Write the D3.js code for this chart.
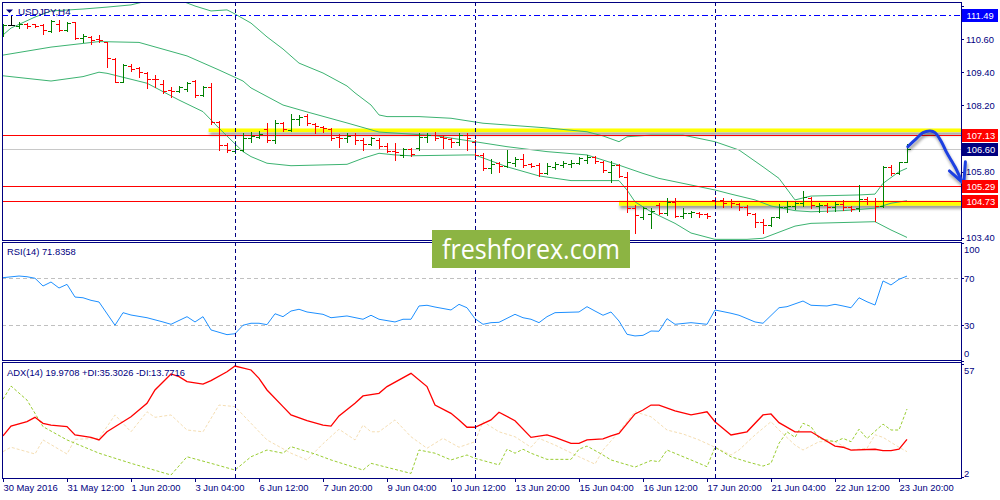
<!DOCTYPE html>
<html>
<head>
<meta charset="utf-8">
<script src="https://cdn.jsdelivr.net/npm/d3@7"></script>
<style>
  body { margin: 0; background: #fff; }
  svg { display: block; font-family: "Liberation Sans", Arial, sans-serif; }
</style>
</head>
<body>
<svg id="chart" width="1000" height="500"></svg>
<script>
// USDJPY H4, 30 May - 24 Jun 2016, one entry per H4 bar (bar 0 = 30 May 04:00)
var barOpen = [110.82,111.11,111.07,111.13,111.13,111.11,110.88,111.15,110.93,111.21,
  110.65,110.69,110.60,110.50,109.88,109.06,109.64,109.56,109.36,109.17,
  108.96,108.75,108.72,108.79,109.08,108.57,108.87,107.61,106.76,106.54,
  106.58,107.00,107.06,107.34,106.94,107.55,107.30,107.70,107.82,107.51,
  107.42,107.34,107.06,107.00,107.12,106.94,106.78,106.94,106.72,106.55,
  106.40,106.62,106.64,107.06,107.12,107.06,106.97,106.88,107.12,106.88,
  106.40,105.91,106.12,106.00,106.12,106.24,106.07,106.04,105.76,105.97,
  106.04,106.07,106.10,106.22,106.31,106.15,105.78,106.04,105.61,104.47,
  104.14,104.26,104.58,104.28,104.70,104.19,104.31,104.31,104.26,104.77,
  104.77,104.74,104.61,104.50,104.26,103.98,103.86,104.14,104.50,104.55,
  104.67,104.83,104.55,104.58,104.50,104.62,104.50,104.47,104.79,104.74,
  104.55,105.95,105.76,106.15];
var barHigh = [111.13,111.44,111.22,111.17,111.15,111.14,111.31,111.29,111.23,111.23,
  110.77,110.72,110.75,110.51,109.90,109.69,109.69,109.60,109.42,109.30,
  109.12,108.87,108.90,109.03,109.12,108.90,109.00,107.63,106.82,106.91,
  107.18,107.24,107.27,107.55,107.67,107.60,107.87,107.85,107.87,107.55,
  107.45,107.37,107.15,107.18,107.18,107.00,107.06,107.00,106.82,106.82,
  106.64,106.64,107.18,107.18,107.24,107.12,107.00,107.18,107.18,106.94,
  106.46,106.24,106.15,106.58,106.34,106.43,106.12,106.12,106.12,106.15,
  106.19,106.22,106.34,106.40,106.36,106.19,106.19,106.07,105.79,104.58,
  104.52,104.47,104.65,104.83,104.83,104.47,104.38,104.34,104.31,104.86,
  104.83,104.79,104.65,104.58,104.28,104.07,104.16,104.62,104.74,104.70,
  105.10,104.89,104.67,104.65,104.70,104.77,104.55,105.31,104.86,104.83,
  106.00,106.04,106.15,106.80];
var barLow = [110.71,111.11,111.00,111.02,111.05,110.77,110.86,110.88,110.91,110.60,
  110.48,110.41,110.51,109.60,109.03,109.03,109.44,109.24,108.82,108.87,
  108.63,108.51,108.69,108.72,108.51,108.55,107.51,106.58,106.50,106.47,
  106.55,106.88,107.00,106.86,106.82,107.27,107.27,107.49,107.49,107.18,
  107.22,106.94,106.70,106.86,106.78,106.58,106.76,106.64,106.52,106.22,
  106.34,106.37,106.58,106.88,106.94,106.66,106.70,106.76,106.58,106.36,
  105.85,105.73,105.79,105.95,106.00,105.95,105.95,105.64,105.71,105.88,
  105.95,105.97,106.07,106.10,106.12,105.79,105.43,105.59,104.34,103.56,
  104.07,103.74,104.26,104.22,104.14,104.10,104.16,104.14,104.10,104.55,
  104.50,104.50,104.40,104.22,103.78,103.58,103.82,104.10,104.34,104.43,
  104.55,104.47,104.34,104.34,104.38,104.40,104.38,104.38,104.62,104.02,
  104.50,105.67,105.71,106.15];
var barClose = [111.11,111.11,111.15,111.07,111.09,110.93,111.27,110.93,111.20,110.65,
  110.72,110.57,110.56,109.90,109.06,109.66,109.52,109.40,109.15,109.14,
  108.72,108.72,108.87,109.00,108.57,108.87,107.61,106.76,106.58,106.63,
  107.00,107.10,107.15,106.94,107.55,107.33,107.70,107.76,107.55,107.45,
  107.37,107.02,107.00,107.10,106.94,106.78,107.00,106.72,106.55,106.50,
  106.62,106.42,107.06,107.12,107.02,107.00,106.88,107.12,107.00,106.40,
  105.91,106.07,106.00,106.15,106.24,106.04,106.00,105.76,106.00,106.07,
  106.12,106.12,106.28,106.31,106.19,105.85,106.04,105.64,104.47,104.22,
  104.47,104.38,104.28,104.70,104.19,104.31,104.34,104.26,104.19,104.73,
  104.67,104.65,104.52,104.28,103.98,103.86,104.14,104.50,104.55,104.67,
  104.86,104.58,104.58,104.50,104.62,104.50,104.43,104.79,104.74,104.55,
  105.95,105.76,106.15,106.60];

// Bollinger bands as [bar, price] vertices
var bbUpper = [[0,110.75],[1,111.00],[4,111.40],[6,111.62],[10,111.69],[13,111.76],[16,111.84],
  [18,111.98],[20,112.09],[22,112.02],[24,111.80],[26,111.62],[28,111.66],[29,111.51],[31,111.18],
  [33,110.68],[35,110.24],[37,109.73],[40,109.37],[43,108.90],[44,108.65],[46,108.21],[47,107.85],
  [48,107.79],[52,107.79],[56,107.73],[60,107.55],[68,107.38],[73,107.24],[75,107.09],[77,106.88],
  [78,107.06],[81,107.12],[85,107.12],[89,106.88],[92,106.58],[95,105.97],[97,105.55],[99,104.77],
  [101,104.91],[107,104.95],[109,104.98],[110,105.37],[112,105.79],[113,105.92]];
var bbMiddle = [[0,110.02],[6,110.31],[12,110.51],[17,110.48],[23,109.99],[27,109.48],[30,109.08],
  [31,108.83],[35,108.21],[38,107.96],[43,107.56],[47,107.23],[54,107.10],[59,106.88],[63,106.70],
  [68,106.52],[73,106.40],[77,106.03],[80,105.73],[82,105.55],[86,105.31],[89,105.13],[91,104.98],
  [94,104.77],[96,104.55],[99,104.38],[101,104.34],[105,104.38],[109,104.47],[111,104.65],[113,104.74]];
var bbLower = [[0,109.27],[6,109.08],[10,109.24],[12,109.40],[13,109.36],[18,109.00],[22,108.39],
  [25,107.97],[27,107.37],[30,106.52],[31,106.34],[33,106.10],[36,106.01],[43,106.06],[45,106.28],
  [47,106.46],[49,106.40],[51,106.37],[58,106.40],[59,106.40],[63,105.97],[67,105.64],[71,105.47],
  [77,105.47],[78,105.13],[79,104.70],[81,104.34],[84,103.92],[86,103.57],[89,103.34],[93,103.34],
  [95,103.38],[99,103.82],[101,103.92],[109,103.98],[111,103.68],[113,103.41]];

var rsiValues = [[0,70.5],[2,71.9],[3,71.3],[4,70.0],[5,63.4],[6,66.8],[7,61.7],[8,64.8],[9,54.0],
  [10,53.4],[11,51.2],[12,49.8],[14,30.0],[15,40.7],[16,38.7],[18,36.4],[20,32.8],[21,30.8],[23,37.3],
  [24,32.8],[25,37.3],[26,26.0],[28,22.0],[29,22.8],[30,30.0],[31,31.7],[32,31.7],[33,30.5],[34,39.8],
  [35,37.3],[36,42.1],[37,43.6],[38,41.3],[40,39.3],[41,36.4],[43,37.9],[45,35.1],[46,38.5],[47,35.1],
  [49,32.8],[50,35.1],[51,35.1],[52,46.4],[53,47.0],[54,45.5],[56,43.0],[57,47.8],[58,44.9],[59,35.6],
  [60,30.8],[61,32.2],[62,32.5],[64,39.3],[65,36.4],[66,35.1],[67,32.2],[68,37.3],[69,40.7],[72,41.3],
  [73,45.8],[74,42.1],[75,38.5],[76,41.3],[77,33.6],[78,22.3],[79,20.9],[80,21.4],[81,25.1],[82,24.9],
  [83,35.6],[84,30.8],[86,32.2],[88,30.8],[89,43.0],[91,40.2],[92,38.5],[94,32.8],[95,31.7],[97,44.9],
  [98,45.8],[100,50.6],[101,47.0],[103,46.4],[104,47.8],[105,46.4],[106,44.9],[107,53.4],[108,50.0],
  [109,47.2],[110,67.7],[111,64.3],[112,69.1],[113,71.84]];
var rsiLevels = [70, 30];
var rsiTicks = [100, 70, 30, 0];

var adxMain = [[0,21.7],[1,26.7],[3,28.9],[4,31.1],[5,28.1],[6,27.2],[8,26.4],[9,22.2],[11,21.0],
  [12,19.7],[13,23.8],[16,31.4],[18,38.2],[19,44.9],[21,53.0],[22,51.6],[23,49.1],[25,47.9],[26,49.6],
  [28,54.1],[29,57.0],[31,55.0],[32,50.8],[33,44.9],[35,36.5],[36,32.3],[38,29.4],[40,27.2],[41,26.7],
  [42,31.8],[44,38.2],[45,41.9],[47,43.2],[48,46.6],[51,53.3],[53,46.6],[54,37.3],[56,33.1],[57,29.8],
  [58,26.1],[59,26.1],[61,29.8],[62,33.7],[64,29.4],[66,21.0],[68,22.2],[69,21.0],[71,18.0],[72,18.0],
  [73,19.7],[75,20.2],[76,21.7],[77,23.0],[79,32.8],[80,34.8],[81,37.3],[82,37.3],[84,34.4],[86,32.3],
  [87,33.1],[88,33.9],[89,28.9],[91,22.2],[93,23.8],[95,32.3],[96,32.8],[97,28.4],[99,23.8],[101,23.8],
  [104,16.6],[105,16.0],[106,14.6],[109,15.0],[110,14.3],[111,14.3],[112,15.0],[113,19.97]];
var adxPlusDI = [[0,40.2],[1,46.9],[3,39.8],[4,33.1],[5,26.4],[8,19.7],[12,13.0],[16,7.9],[21,2.0],
  [23,11.2],[26,7.9],[29,4.5],[31,11.2],[33,14.6],[35,13.0],[36,16.3],[39,12.6],[41,9.6],[45,4.5],
  [46,7.9],[51,2.8],[52,14.6],[54,13.0],[56,9.6],[58,12.1],[59,10.4],[62,7.1],[63,15.0],[64,13.0],
  [65,15.0],[66,13.0],[68,9.9],[71,9.9],[72,15.0],[73,16.6],[75,12.1],[76,9.6],[79,6.0],[81,9.3],
  [82,8.7],[83,14.6],[86,9.6],[88,6.2],[89,16.0],[91,11.2],[93,8.7],[95,6.5],[96,7.9],[97,18.0],
  [98,23.8],[99,21.0],[100,28.1],[101,26.4],[102,20.5],[104,18.8],[105,20.5],[106,18.8],[107,25.1],
  [108,20.4],[110,27.7],[111,24.7],[112,24.7],[113,35.30]];
var adxMinusDI = [[0,13.8],[1,16.0],[4,12.6],[5,19.7],[8,12.6],[9,20.0],[12,20.5],[14,32.3],[16,23.8],
  [18,33.9],[19,31.1],[21,32.3],[23,24.7],[25,23.8],[27,37.3],[29,36.5],[31,28.1],[33,19.7],[36,13.0],
  [38,9.6],[40,17.8],[42,25.1],[44,19.7],[45,27.2],[46,23.8],[47,23.8],[49,29.8],[51,21.3],[53,15.5],
  [55,20.5],[57,16.0],[59,18.8],[60,28.9],[62,23.8],[64,21.3],[66,16.0],[67,20.5],[69,17.1],[72,11.2],
  [74,7.5],[75,14.6],[77,23.8],[79,33.9],[81,31.4],[83,24.7],[85,22.7],[87,19.7],[89,16.0],[91,12.1],
  [92,14.6],[94,22.2],[96,28.9],[97,24.7],[99,17.1],[100,14.6],[102,18.8],[104,18.8],[106,14.6],
  [108,15.5],[109,22.3],[110,21.0],[112,16.0],[113,13.77]];
var adxTicks = [57, 2];

var priceTicks = [111.80, 110.60, 109.40, 108.20, 107.00, 105.80, 104.60, 103.40];
var timeTickBars = [0, 8, 16, 24, 32, 40, 48, 56, 64, 72, 80, 88, 96, 104, 112];
var timeLabels = ["30 May 2016", "31 May 12:00", "1 Jun 20:00", "3 Jun 04:00", "6 Jun 12:00",
  "7 Jun 20:00", "9 Jun 04:00", "10 Jun 12:00", "13 Jun 20:00", "15 Jun 04:00", "16 Jun 12:00",
  "17 Jun 20:00", "21 Jun 04:00", "22 Jun 12:00", "23 Jun 20:00"];
var weekStartBars = [29, 59, 89];

// horizontal levels and their kind
var levelPrices = [111.49, 107.13, 106.60, 105.29, 104.73];
var levelKinds = ["ask", "resist", "bid", "resist", "resist"];
// yellow highlight zones: [fromBar, top price, bottom price]
var zones = [[25.7, 107.36, 107.23], [77, 104.74, 104.56]];
// hand drawn forecast arrow, [bar, price]
var arrowPath = [[113.1,106.70],[114.2,107.00],[115.0,107.21],[115.9,107.27],[116.5,107.21],
  [117.3,106.88],[117.9,106.52],[119.0,105.97],[119.8,105.49],[120.1,105.36]];
var arrowHead = [[118.3,105.82],[120.1,105.36],[120.3,106.15]];

var navy = "#000080";
var kindStyle = {
  ask:    { line: "#0000ff", box: "#0000ff", dash: "6,3,2,3" },
  resist: { line: "#ff0000", box: "#ff0000", dash: null },
  bid:    { line: "#c8c8c8", box: "#000080", dash: null }
};

var L = 2, R = 961;
var panel = { main: [2, 240], rsi: [242, 360], adx: [362, 478] };

var svg = d3.select("#chart");
var defs = svg.append("defs");

Object.keys(panel).forEach(function (k) {
  defs.append("clipPath").attr("id", "clip-" + k)
    .append("rect")
    .attr("x", L).attr("y", panel[k][0])
    .attr("width", R - L).attr("height", panel[k][1] - panel[k][0]);
});

var sh = defs.append("filter").attr("id", "shadow")
  .attr("x", "-10%").attr("y", "-50%").attr("width", "130%").attr("height", "300%");
sh.append("feGaussianBlur").attr("in", "SourceAlpha").attr("stdDeviation", 1.6).attr("result", "b");
sh.append("feOffset").attr("in", "b").attr("dx", 1).attr("dy", 3).attr("result", "o");
sh.append("feComponentTransfer").attr("in", "o").attr("result", "t")
  .append("feFuncA").attr("type", "linear").attr("slope", 0.4);
var mg = sh.append("feMerge");
mg.append("feMergeNode").attr("in", "t");
mg.append("feMergeNode").attr("in", "SourceGraphic");

var x = d3.scaleLinear().domain([0, 113]).range([3, 907]);
var y = d3.scaleLinear().domain([103.4, 111.8]).range([237.7, 6]);
var yR = d3.scaleLinear().domain([0, 100]).range([360.5, 243]);
var yA = d3.scaleLinear().domain([2, 57]).range([475, 366]);

function px(v) { return Math.round(v) + 0.5; }

// ---------- main panel ----------
var gMain = svg.append("g").attr("clip-path", "url(#clip-main)");

// yellow zones
gMain.selectAll(".zone").data(zones).enter().append("rect")
  .attr("x", function (d) { return x(d[0]); })
  .attr("y", function (d) { return y(d[1]); })
  .attr("width", function (d) { return R - x(d[0]) + 4; })
  .attr("height", function (d) { return y(d[2]) - y(d[1]); })
  .attr("fill", "#ffff00")
  .attr("filter", "url(#shadow)");

// bollinger bands
var bbLine = d3.line().x(function (d) { return x(d[0]); }).y(function (d) { return y(d[1]); });
[bbUpper, bbMiddle, bbLower].forEach(function (band) {
  gMain.append("path").attr("d", bbLine(band))
    .attr("fill", "none").attr("stroke", "#3cb371").attr("stroke-width", 1);
});

// level lines
levelPrices.forEach(function (p, i) {
  var st = kindStyle[levelKinds[i]];
  gMain.append("line")
    .attr("x1", L).attr("x2", R)
    .attr("y1", px(y(p))).attr("y2", px(y(p)))
    .attr("stroke", st.line).attr("stroke-width", 1)
    .attr("stroke-dasharray", st.dash);
});

// OHLC bars
var bars = barOpen.map(function (o, i) {
  return { i: i, o: o, h: barHigh[i], l: barLow[i], c: barClose[i] };
});
function barColor(d) { return d.c > d.o ? "#008000" : (d.c < d.o ? "#ff0000" : "#000000"); }
var gb = gMain.selectAll(".bar").data(bars).enter().append("g")
  .attr("stroke", barColor).attr("stroke-width", 1);
gb.append("line")
  .attr("x1", function (d) { return px(x(d.i)); }).attr("x2", function (d) { return px(x(d.i)); })
  .attr("y1", function (d) { return Math.round(y(d.h)); })
  .attr("y2", function (d) { return Math.round(y(d.l)) + 1; });
gb.append("line")
  .attr("x1", function (d) { return Math.round(x(d.i)) - 3; })
  .attr("x2", function (d) { return Math.round(x(d.i)); })
  .attr("y1", function (d) { return px(y(d.o)); }).attr("y2", function (d) { return px(y(d.o)); });
gb.append("line")
  .attr("x1", function (d) { return Math.round(x(d.i)) + 1; })
  .attr("x2", function (d) { return Math.round(x(d.i)) + 4; })
  .attr("y1", function (d) { return px(y(d.c)); }).attr("y2", function (d) { return px(y(d.c)); });

// ---------- RSI panel ----------
var gRsi = svg.append("g").attr("clip-path", "url(#clip-rsi)");
gRsi.selectAll(".lvl").data(rsiLevels).enter().append("line")
  .attr("x1", L).attr("x2", R)
  .attr("y1", function (d) { return px(yR(d)); }).attr("y2", function (d) { return px(yR(d)); })
  .attr("stroke", "#c0c0c0").attr("stroke-dasharray", "4,3");
gRsi.append("path")
  .attr("d", d3.line().x(function (d) { return x(d[0]); }).y(function (d) { return yR(d[1]); })(rsiValues))
  .attr("fill", "none").attr("stroke", "#1e90ff").attr("stroke-width", 1);

// ---------- ADX panel ----------
var gAdx = svg.append("g").attr("clip-path", "url(#clip-adx)");
var adxLine = d3.line().x(function (d) { return x(d[0]); }).y(function (d) { return yA(d[1]); });
gAdx.append("path").attr("d", adxLine(adxMinusDI))
  .attr("fill", "none").attr("stroke", "#f5deb3").attr("stroke-width", 1).attr("stroke-dasharray", "3,2");
gAdx.append("path").attr("d", adxLine(adxPlusDI))
  .attr("fill", "none").attr("stroke", "#9acd32").attr("stroke-width", 1).attr("stroke-dasharray", "3,2");
gAdx.append("path").attr("d", adxLine(adxMain))
  .attr("fill", "none").attr("stroke", "#ff0000").attr("stroke-width", 1.3);

// ---------- week separators ----------
Object.keys(panel).forEach(function (k) {
  svg.selectAll(null).data(weekStartBars).enter().append("line")
    .attr("x1", function (d) { return px(x(d)); }).attr("x2", function (d) { return px(x(d)); })
    .attr("y1", panel[k][0]).attr("y2", panel[k][1])
    .attr("stroke", navy).attr("stroke-dasharray", "4,3");
});

// ---------- frames ----------
Object.keys(panel).forEach(function (k) {
  svg.append("rect")
    .attr("x", L + 0.5).attr("y", panel[k][0] + 0.5)
    .attr("width", R - L).attr("height", panel[k][1] - panel[k][0])
    .attr("fill", "none").attr("stroke", navy).attr("stroke-width", 1);
});

// ---------- price axis ----------
var axisFont = 9.4;
priceTicks.forEach(function (p) {
  var yy = px(y(p));
  svg.append("line").attr("x1", R).attr("x2", R + 3).attr("y1", yy).attr("y2", yy).attr("stroke", navy);
  // labels hidden behind a level box are skipped, as on the terminal
  var covered = levelPrices.some(function (lp) { return Math.abs(y(lp) - y(p)) < 12; });
  if (!covered) {
    svg.append("text").attr("x", 966).attr("y", y(p) + 3.5)
      .attr("font-size", axisFont).attr("fill", navy).text(p.toFixed(2));
  }
});

// forecast arrow (drawn before price boxes, as on the reference)
var ga = svg.append("g").attr("filter", "url(#shadow)")
  .attr("fill", "none").attr("stroke", "#1f3fe0").attr("stroke-width", 3)
  .attr("stroke-linecap", "round").attr("stroke-linejoin", "round");
var arrowLine = d3.line().x(function (d) { return x(d[0]); }).y(function (d) { return y(d[1]); });
ga.append("path").attr("d", arrowLine.curve(d3.curveCatmullRom)(arrowPath));
ga.append("path").attr("d", d3.line().x(function (d) { return x(d[0]); }).y(function (d) { return y(d[1]); })(arrowHead));

// level price boxes
levelPrices.forEach(function (p, i) {
  var st = kindStyle[levelKinds[i]];
  var yy = Math.round(y(p));
  svg.append("rect").attr("x", 962).attr("y", yy - 6).attr("width", 36).attr("height", 13)
    .attr("fill", st.box);
  svg.append("text").attr("x", 966.5).attr("y", yy + 4)
    .attr("font-size", axisFont).attr("fill", "#ffffff").text(p.toFixed(2));
});

// RSI axis
rsiTicks.forEach(function (v) {
  var yy = Math.max(panel.rsi[0] + 7, Math.min(panel.rsi[1] - 7, yR(v)));
  svg.append("line").attr("x1", R).attr("x2", R + 3).attr("y1", px(yR(v))).attr("y2", px(yR(v)))
    .attr("stroke", navy);
  svg.append("text").attr("x", 964).attr("y", yy + 3.5)
    .attr("font-size", axisFont).attr("fill", navy).text(v);
});

// ADX axis
adxTicks.forEach(function (v) {
  var yy = Math.max(panel.adx[0] + 8, Math.min(panel.adx[1] - 5, yA(v)));
  svg.append("line").attr("x1", R).attr("x2", R + 3)
    .attr("y1", v === 57 ? panel.adx[0] + 2.5 : panel.adx[1] - 0.5)
    .attr("y2", v === 57 ? panel.adx[0] + 2.5 : panel.adx[1] - 0.5)
    .attr("stroke", navy);
  svg.append("text").attr("x", 964).attr("y", yy + 3.5)
    .attr("font-size", axisFont).attr("fill", navy).text(v);
});

// time axis
timeTickBars.forEach(function (b, i) {
  var xx = px(x(b));
  svg.append("line").attr("x1", xx).attr("x2", xx).attr("y1", 478).attr("y2", 482).attr("stroke", navy);
  svg.append("text").attr("x", x(b) + 0.5).attr("y", 490.5)
    .attr("font-size", axisFont).attr("fill", navy).text(timeLabels[i]);
});

// ---------- captions ----------
svg.append("path").attr("d", "M6,9.5L13,9.5L9.5,13Z").attr("fill", navy);
svg.append("text").attr("x", 18).attr("y", 14.5).attr("font-size", 9.8).attr("fill", navy).text("USDJPY,H4");
svg.append("text").attr("x", 7).attr("y", 255).attr("font-size", axisFont).attr("fill", navy)
  .text("RSI(14) 71.8358");
svg.append("text").attr("x", 7).attr("y", 375.5).attr("font-size", axisFont).attr("fill", navy)
  .text("ADX(14) 19.9708 +DI:35.3026 -DI:13.7716");

// ---------- watermark ----------
svg.append("rect").attr("x", 432).attr("y", 230).attr("width", 198).attr("height", 38).attr("fill", "#8cb443");
svg.append("text").attr("x", 531).attr("y", 259).attr("text-anchor", "middle")
  .attr("font-family", "'Open Sans', 'Noto Sans', sans-serif").attr("font-size", 27)
  .attr("fill", "#ffffff").attr("textLength", 178).attr("lengthAdjust", "spacingAndGlyphs")
  .text("freshforex.com");
</script>
</body>
</html>
